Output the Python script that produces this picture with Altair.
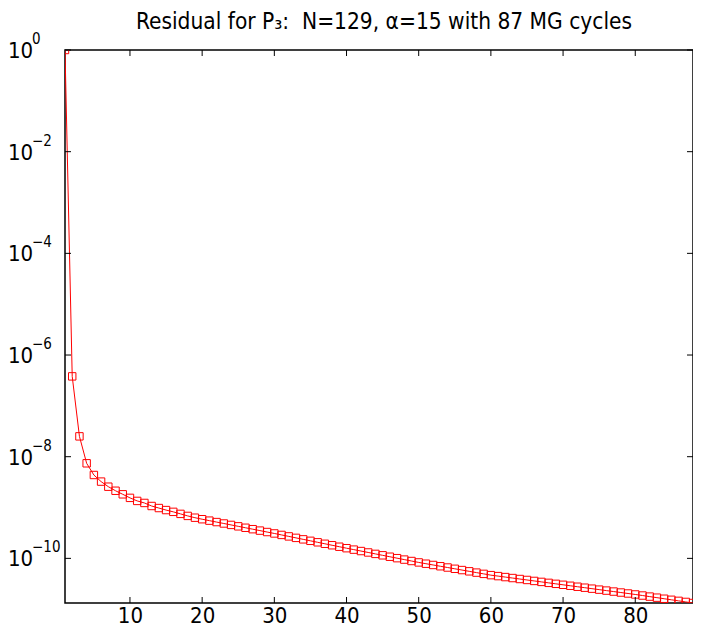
import altair as alt
import pandas as pd

# ---- data ----
cycles = list(range(1, 89))
log10_residual = [
    0.0, -6.42, -7.60, -8.13, -8.36, -8.49, -8.59, -8.67, -8.74, -8.81,
    -8.87, -8.91, -8.97, -9.01, -9.05, -9.085, -9.125, -9.165, -9.20, -9.23,
    -9.258, -9.286, -9.314, -9.342, -9.37, -9.398, -9.426, -9.454, -9.482, -9.51,
    -9.539, -9.568, -9.597, -9.626, -9.655, -9.684, -9.713, -9.742, -9.771, -9.80,
    -9.828, -9.856, -9.884, -9.912, -9.94, -9.968, -9.996, -10.024, -10.052, -10.08,
    -10.105, -10.13, -10.155, -10.18, -10.205, -10.23, -10.255, -10.28, -10.305, -10.33,
    -10.349, -10.368, -10.387, -10.406, -10.425, -10.444, -10.463, -10.482, -10.501, -10.52,
    -10.539, -10.558, -10.577, -10.596, -10.615, -10.634, -10.653, -10.672, -10.691, -10.71,
    -10.731, -10.752, -10.773, -10.794, -10.815, -10.836, -10.857, -10.878,
]
x_ticks = [10, 20, 30, 40, 50, 60, 70, 80]
y_tick_exponents = [0, -2, -4, -6, -8, -10]
title_text = "Residual for P\u2083:\u00a0 N=129, \u03b1=15 with 87 MG cycles"

FONT = "DejaVu Sans Condensed, Liberation Sans, Arial, sans-serif"
PAD_L = 57
W, H = 628, 553
RED = "#ff0000"

df = pd.DataFrame({"cycle": cycles, "residual": [10 ** v for v in log10_residual]})
xt = pd.DataFrame({"t": x_ticks})
yt = pd.DataFrame({
    "v": [10.0 ** e for e in y_tick_exponents],
    "exp": [("\u2212" + str(-e)) if e < 0 else str(e) for e in y_tick_exponents],
})
tt = pd.DataFrame({"title": [title_text]})

xs = alt.Scale(domain=[1, 88], nice=False, zero=False)
ys = alt.Scale(type="log", domain=[10 ** log10_residual[-1], 1], nice=False)
x_axis = alt.Axis(values=x_ticks, ticks=False, domain=False, grid=False,
                  labelFontSize=22, labelFont=FONT, labelColor="black",
                  labelPadding=2, title=None)

base = alt.Chart(df)
line = base.mark_line(color=RED, strokeWidth=1, clip=True).encode(
    x=alt.X("cycle:Q", scale=xs, axis=x_axis),
    y=alt.Y("residual:Q", scale=ys, axis=None),
)
pts = base.mark_point(shape="square", filled=False, color=RED, size=55,
                      strokeWidth=1, opacity=1, clip=True).encode(
    x=alt.X("cycle:Q", scale=xs, axis=x_axis),
    y=alt.Y("residual:Q", scale=ys, axis=None),
)

tick_len = 6
xtick_bottom = alt.Chart(xt).mark_rule(color="black", strokeWidth=1).encode(
    x=alt.X("t:Q", scale=xs, axis=x_axis), y=alt.value(H), y2=alt.value(H - tick_len))
xtick_top = alt.Chart(xt).mark_rule(color="black", strokeWidth=1).encode(
    x=alt.X("t:Q", scale=xs, axis=x_axis), y=alt.value(0), y2=alt.value(tick_len))
ytick_left = alt.Chart(yt).mark_rule(color="black", strokeWidth=1).encode(
    y=alt.Y("v:Q", scale=ys, axis=None), x=alt.value(0), x2=alt.value(tick_len))
ytick_right = alt.Chart(yt).mark_rule(color="black", strokeWidth=1).encode(
    y=alt.Y("v:Q", scale=ys, axis=None), x=alt.value(W), x2=alt.value(W - tick_len))

ylab_base = alt.Chart(yt).mark_text(align="left", baseline="middle", fontSize=22,
                                    font=FONT, color="black", dy=1).encode(
    y=alt.Y("v:Q", scale=ys, axis=None), x=alt.value(-PAD_L), text=alt.value("10"))
ylab_exp = alt.Chart(yt).mark_text(align="left", baseline="middle", fontSize=15,
                                   font=FONT, color="black", dy=-11).encode(
    y=alt.Y("v:Q", scale=ys, axis=None), x=alt.value(-PAD_L + 24), text="exp:N")

title = alt.Chart(tt).mark_text(align="center", baseline="alphabetic", fontSize=22.5,
                                font=FONT, color="black").encode(
    x=alt.value(W / 2 + 5), y=alt.value(-21), text="title:N")

chart = alt.layer(
    line, pts, xtick_bottom, xtick_top, ytick_left, ytick_right, ylab_base, ylab_exp, title
).properties(
    width=W, height=H,
    autosize=alt.AutoSizeParams(type="none"),
    padding={"left": PAD_L, "top": 42, "right": 0, "bottom": 23},
).configure_view(stroke="black", strokeWidth=1.5)

chart.save("out.html", embed_options={"renderer": "svg", "actions": False})
